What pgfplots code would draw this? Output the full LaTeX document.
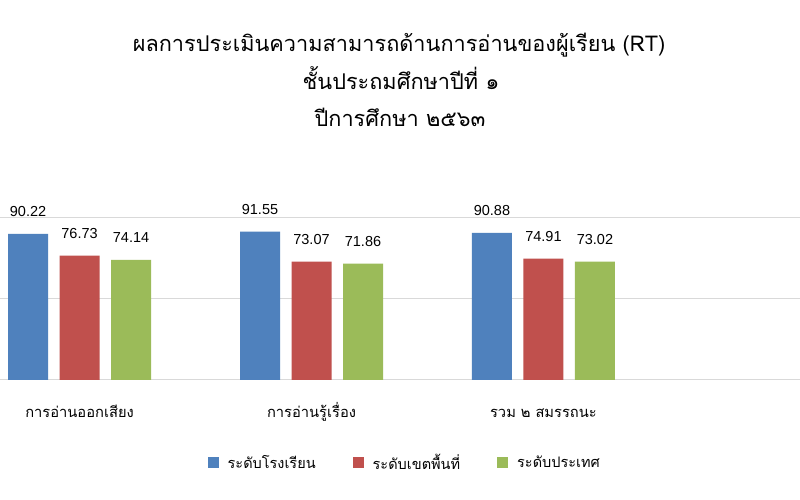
\documentclass[border=0pt]{standalone}
\usepackage{fontspec}
\usepackage{pgfplots}
\pgfplotsset{compat=1.18}
\setmainfont{Liberation Sans}
\newfontfamily\thaifont[Script=Thai]{Loma}
\definecolor{cblue}{HTML}{4F81BD}
\definecolor{cred}{HTML}{C0504D}
\definecolor{cgreen}{HTML}{9BBB59}
\definecolor{cgrid}{HTML}{D9D9D9}
\begin{document}
\begin{tikzpicture}[x=1pt,y=1pt]
\useasboundingbox (0,0) rectangle (800,500);
\fill[white] (0,0) rectangle (800,500);
\node[anchor=base,font=\thaifont\fontsize{21.7}{26}\selectfont] at (399,448) {ผลการประเมินความสามารถด้านการอ่านของผู้เรียน (RT)};
\node[anchor=base,font=\thaifont\fontsize{21.7}{26}\selectfont] at (401,410) {ชั้นประถมศึกษาปีที่ ๑};
\node[anchor=base,font=\thaifont\fontsize{21.7}{26}\selectfont] at (400,373) {ปีการศึกษา ๒๕๖๓};
\begin{axis}[
  at={(0pt,120pt)}, anchor=south west,
  scale only axis, width=800pt, height=162pt,
  xmin=-0.343, xmax=3.106, ymin=0, ymax=100,
  ybar=11.5pt, bar width=40pt,
  axis line style={draw=none},
  ytick={0,50,100}, yticklabels={}, ymajorgrids, grid style={cgrid, line width=1pt},
  major tick length=0pt,
  xtick={0,1,2},
  xticklabels={การอ่านออกเสียง,การอ่านรู้เรื่อง,รวม ๒ สมรรถนะ},
  xticklabel style={font=\thaifont\fontsize{14.7}{18}\selectfont, anchor=base, inner sep=0pt, yshift=-38pt},
  nodes near coords,
  nodes near coords style={font=\fontsize{14.5}{17}\selectfont, /pgf/number format/fixed, /pgf/number format/fixed zerofill, /pgf/number format/precision=2, /pgf/number format/assume math mode=true},
  every node near coord/.append style={anchor=base, inner sep=0pt, yshift=17pt},
  legend columns=3,
  legend style={draw=none, at={(0.506,-0.512)}, anchor=center, font=\thaifont\fontsize{14.5}{18}\selectfont,
    /tikz/every odd column/.append style={column sep=7pt},
    /tikz/every even column/.append style={column sep=35pt}},
  legend image code/.code={\fill[#1,draw=none] (0pt,-5.5pt) rectangle (11pt,5.5pt);},
  clip=false,
]
\addplot[fill=cblue, draw=none] coordinates {(0,90.22) (1,91.55) (2,90.88)};
\addplot[fill=cred, draw=none] coordinates {(0,76.73) (1,73.07) (2,74.91)};
\addplot[fill=cgreen, draw=none] coordinates {(0,74.14) (1,71.86) (2,73.02)};
\legend{ระดับโรงเรียน,ระดับเขตพื้นที่,ระดับประเทศ}
\end{axis}
\end{tikzpicture}
\end{document}
